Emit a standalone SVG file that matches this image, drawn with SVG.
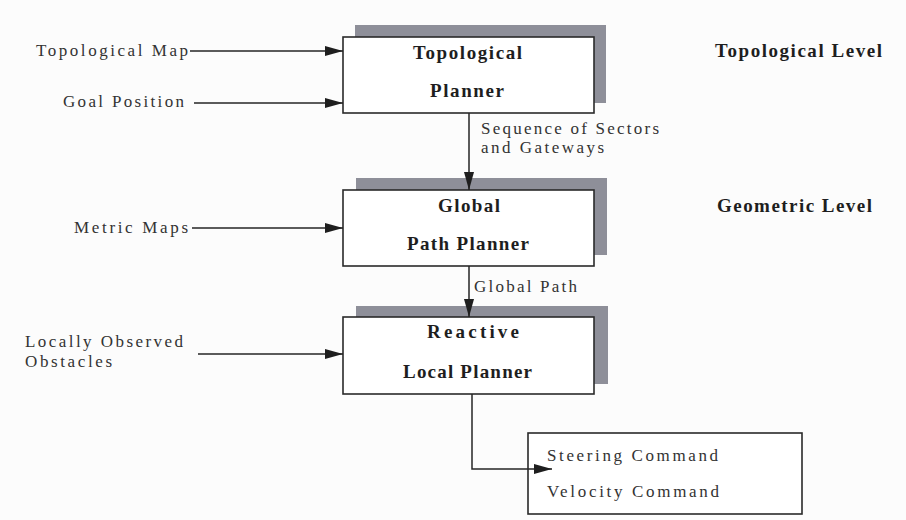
<svg xmlns="http://www.w3.org/2000/svg" width="906" height="520" viewBox="0 0 906 520">
<style>
.bg{fill:#fcfcfc}
.shadow{fill:#8e8f99}
.box{fill:#ffffff;stroke:#2a2a2a;stroke-width:1.6}
.ln{fill:none;stroke:#262626;stroke-width:1.5}
.t{font-family:"Liberation Serif","Times New Roman",serif;font-size:17px;fill:#333333}
.b{font-family:"Liberation Serif","Times New Roman",serif;font-size:19px;font-weight:bold;fill:#1e1e1e}
</style>
<defs>
<marker id="ah" viewBox="0 0 18 10" refX="18" refY="5" markerWidth="18" markerHeight="10" markerUnits="userSpaceOnUse" orient="auto">
<path d="M0,0 L18,5 L0,10 z" fill="#1e1e1e"/>
</marker>
</defs>
<rect class="bg" x="0" y="0" width="906" height="520"/>

<g id="topological-planner">
<rect class="shadow" x="355" y="25" width="251" height="78"/>
<rect class="box" x="343" y="37" width="251" height="76"/>
<text class="b" x="413" y="59" textLength="109">Topological</text>
<text class="b" x="430" y="97" textLength="74">Planner</text>
</g>

<g id="global-path-planner">
<rect class="shadow" x="356" y="178" width="251" height="77"/>
<rect class="box" x="343" y="190" width="251" height="76"/>
<text class="b" x="438" y="212" textLength="62">Global</text>
<text class="b" x="407" y="250" textLength="122">Path Planner</text>
</g>

<g id="reactive-local-planner">
<rect class="shadow" x="356" y="306" width="252" height="78"/>
<rect class="box" x="343" y="317" width="251" height="77"/>
<text class="b" x="427" y="338" textLength="92">Reactive</text>
<text class="b" x="403" y="378" textLength="129">Local Planner</text>
</g>

<g id="output-commands">
<rect class="box" x="528" y="433" width="274" height="81"/>
<text class="t" x="547" y="461" textLength="171">Steering Command</text>
<text class="t" x="547" y="497" textLength="172">Velocity Command</text>
</g>

<g id="inputs">
<text class="t" x="36" y="56" textLength="152">Topological Map</text>
<text class="t" x="63" y="107" textLength="121">Goal Position</text>
<text class="t" x="74" y="233" textLength="114">Metric Maps</text>
<text class="t" x="25" y="347" textLength="158">Locally Observed</text>
<text class="t" x="25" y="367" textLength="87">Obstacles</text>
</g>

<g id="levels">
<text class="b" x="715" y="57" textLength="167">Topological Level</text>
<text class="b" x="717" y="212" textLength="155">Geometric Level</text>
</g>

<g id="connectors">
<line class="ln" x1="190" y1="51" x2="343" y2="51" marker-end="url(#ah)"/>
<line class="ln" x1="194" y1="103" x2="343" y2="103" marker-end="url(#ah)"/>
<line class="ln" x1="192" y1="228" x2="343" y2="228" marker-end="url(#ah)"/>
<line class="ln" x1="198" y1="354" x2="343" y2="354" marker-end="url(#ah)"/>
<line class="ln" x1="469" y1="113" x2="469" y2="190" marker-end="url(#ah)"/>
<line class="ln" x1="469" y1="266" x2="469" y2="317" marker-end="url(#ah)"/>
<polyline class="ln" points="472,394 472,469 552,469" marker-end="url(#ah)"/>
<text class="t" x="481" y="134" textLength="178">Sequence of Sectors</text>
<text class="t" x="481" y="153" textLength="123">and Gateways</text>
<text class="t" x="474" y="292" textLength="103">Global Path</text>
</g>
</svg>
